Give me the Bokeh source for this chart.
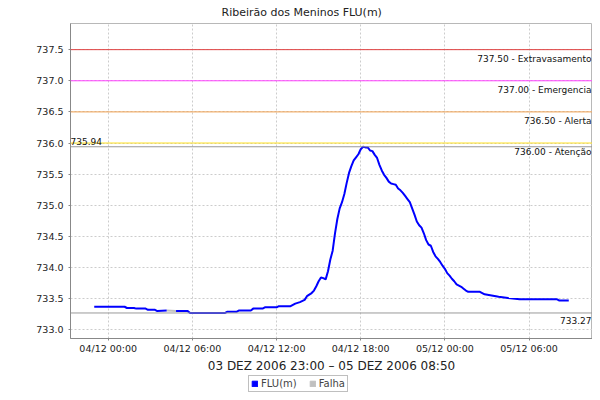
import numpy as np
import pandas as pd
from bokeh.plotting import figure
from bokeh.layouts import column
from bokeh.models import (Range1d, FixedTicker, DatetimeTickFormatter, PrintfTickFormatter,
                          Span, Label, Legend, LegendItem)
from bokeh.embed import file_html
from bokeh.resources import INLINE

title_text = "Ribeirão dos Meninos FLU(m)"
x_label = "03 DEZ 2006 23:00 \u2013 05 DEZ 2006 08:50"

flu_times = [
    "2006-12-03 23:00", "2006-12-04 01:10", "2006-12-04 01:20", "2006-12-04 01:50",
    "2006-12-04 02:00", "2006-12-04 02:40", "2006-12-04 02:50", "2006-12-04 03:20",
    "2006-12-04 03:30", "2006-12-04 04:10", "2006-12-04 04:30", "2006-12-04 04:50",
    "2006-12-04 05:40", "2006-12-04 05:50", "2006-12-04 08:20", "2006-12-04 08:30",
    "2006-12-04 09:10", "2006-12-04 09:20", "2006-12-04 10:10", "2006-12-04 10:20",
    "2006-12-04 11:00", "2006-12-04 11:10", "2006-12-04 12:00", "2006-12-04 12:10",
    "2006-12-04 13:00", "2006-12-04 13:20", "2006-12-04 13:40", "2006-12-04 14:00",
    "2006-12-04 14:10", "2006-12-04 14:30", "2006-12-04 14:40", "2006-12-04 14:50",
    "2006-12-04 15:00", "2006-12-04 15:10", "2006-12-04 15:20", "2006-12-04 15:30",
    "2006-12-04 15:40", "2006-12-04 15:50", "2006-12-04 16:00", "2006-12-04 16:10",
    "2006-12-04 16:20", "2006-12-04 16:30", "2006-12-04 16:40", "2006-12-04 16:50",
    "2006-12-04 17:00", "2006-12-04 17:10", "2006-12-04 17:20", "2006-12-04 17:30",
    "2006-12-04 17:40", "2006-12-04 17:50", "2006-12-04 18:00", "2006-12-04 18:10",
    "2006-12-04 18:20", "2006-12-04 18:30", "2006-12-04 18:40", "2006-12-04 18:50",
    "2006-12-04 19:00", "2006-12-04 19:10", "2006-12-04 19:20", "2006-12-04 19:30",
    "2006-12-04 19:40", "2006-12-04 19:50", "2006-12-04 20:00", "2006-12-04 20:10",
    "2006-12-04 20:20", "2006-12-04 20:30", "2006-12-04 20:40", "2006-12-04 20:50",
    "2006-12-04 21:00", "2006-12-04 21:10", "2006-12-04 21:20", "2006-12-04 21:30",
    "2006-12-04 21:40", "2006-12-04 21:50", "2006-12-04 22:00", "2006-12-04 22:10",
    "2006-12-04 22:20", "2006-12-04 22:30", "2006-12-04 22:40", "2006-12-04 22:50",
    "2006-12-04 23:00", "2006-12-04 23:10", "2006-12-04 23:20", "2006-12-04 23:30",
    "2006-12-04 23:40", "2006-12-04 23:50", "2006-12-05 00:00", "2006-12-05 00:10",
    "2006-12-05 00:20", "2006-12-05 00:30", "2006-12-05 00:40", "2006-12-05 00:50",
    "2006-12-05 01:00", "2006-12-05 01:10", "2006-12-05 01:20", "2006-12-05 01:30",
    "2006-12-05 01:40", "2006-12-05 02:30", "2006-12-05 02:40", "2006-12-05 02:50",
    "2006-12-05 03:20", "2006-12-05 03:50", "2006-12-05 04:30", "2006-12-05 05:20",
    "2006-12-05 08:00", "2006-12-05 08:10", "2006-12-05 08:50",
]
flu_values = [
    733.37, 733.37, 733.35, 733.35,
    733.34, 733.34, 733.32, 733.32,
    733.30, 733.31, None, 733.30,
    733.30, 733.27, 733.27, 733.29,
    733.29, 733.31, 733.31, 733.34,
    733.34, 733.36, 733.36, 733.38,
    733.38, 733.42, 733.445, 733.48,
    733.54, 733.59, 733.63, 733.70,
    733.78, 733.84, 733.83, 733.81,
    733.94, 734.13, 734.27, 734.55,
    734.78, 734.95, 735.05, 735.18,
    735.36, 735.52, 735.63, 735.72,
    735.77, 735.82, 735.90, 735.94,
    735.93, 735.93, 735.88, 735.87,
    735.81, 735.76, 735.65, 735.56,
    735.49, 735.44, 735.38, 735.35,
    735.34, 735.33, 735.27, 735.24,
    735.20, 735.15, 735.10, 735.05,
    734.95, 734.85, 734.74, 734.68,
    734.64, 734.55, 734.44, 734.37,
    734.35, 734.25, 734.18, 734.14,
    734.09, 734.03, 733.98, 733.91,
    733.87, 733.82, 733.78, 733.73,
    733.71, 733.69, 733.66, 733.63,
    733.61, 733.61, 733.59, 733.57,
    733.55, 733.53, 733.51, 733.49,
    733.49, 733.47, 733.47,
]
falha_times = ["2006-12-04 04:10", "2006-12-04 04:50"]
falha_values = [733.31, 733.30]

levels = [737.5, 737.0, 736.5, 736.0]
level_names = ["Extravasamento", "Emergencia", "Alerta", "Atenção"]
level_colors = ["#e04040", "#ff40ff", "#f0a050", "#ffe020"]

x_tick_times = ["2006-12-04 00:00", "2006-12-04 06:00", "2006-12-04 12:00",
                "2006-12-04 18:00", "2006-12-05 00:00", "2006-12-05 06:00"]
y_ticks = [733.0, 733.5, 734.0, 734.5, 735.0, 735.5, 736.0, 736.5, 737.0, 737.5]

legend_labels = ["FLU(m)", "Falha"]
legend_colors = ["#0000ff", "#c0c0c0"]

FONT = "DejaVu Sans"

t = pd.to_datetime(flu_times)
v = np.array(flu_values, dtype=float)
tf = pd.to_datetime(falha_times)

def to_ms(idx):
    return list(((idx - pd.Timestamp("1970-01-01")) // pd.Timedelta("1ms")).astype(float))

t_ms = to_ms(t)
span = t_ms[-1] - t_ms[0]
x0 = t_ms[0] - 0.05 * span
x1 = t_ms[-1] + 0.05 * span
y0, y1 = 732.86, 737.92

p = figure(width=592, height=375, x_axis_type="datetime", output_backend="svg",
           toolbar_location=None, x_range=Range1d(x0, x1), y_range=Range1d(y0, y1),
           min_border_left=70, min_border_right=0, min_border_top=0, min_border_bottom=35)

p.title.text = title_text
p.title.text_font = FONT
p.title.text_font_size = "11px"
p.title.text_font_style = "normal"
p.title.text_color = "#222222"
p.title.align = "left"
p.title.offset = 151
p.title.vertical_align = "middle"
p.title.standoff = 8

p.outline_line_color = "#b8b8b8"
p.background_fill_color = "white"
p.border_fill_color = "white"

for ax in (p.xaxis[0], p.yaxis[0]):
    ax.axis_line_color = "#888888"
    ax.major_tick_line_color = "#888888"
    ax.major_tick_out = 2
    ax.major_tick_in = 0
    ax.minor_tick_line_color = None
    ax.major_label_text_font = FONT
    ax.major_label_text_font_size = "9.5px"
    ax.major_label_text_color = "#222222"

p.yaxis.ticker = FixedTicker(ticks=y_ticks)
p.yaxis.formatter = PrintfTickFormatter(format="%.1f")
p.yaxis.major_label_standoff = 5

p.xaxis.ticker = FixedTicker(ticks=to_ms(pd.to_datetime(x_tick_times)))
fmt = "%d/%m %H:%M"
p.xaxis.formatter = DatetimeTickFormatter(minutes=fmt, hourmin=fmt, hours=fmt, days=fmt, months=fmt)
p.xaxis.major_label_standoff = 2
p.xaxis.axis_label = x_label
p.xaxis.axis_label_text_font = FONT
p.xaxis.axis_label_text_font_size = "12px"
p.xaxis.axis_label_text_font_style = "normal"
p.xaxis.axis_label_text_color = "#222222"
p.xaxis.axis_label_standoff = 2

for g in (p.xgrid[0], p.ygrid[0]):
    g.grid_line_color = "#cccccc"
    g.grid_line_dash = "2 2"
    g.grid_line_width = 1

# threshold lines
for lev, name, col in zip(levels, level_names, level_colors):
    p.add_layout(Span(location=lev, dimension="width", line_color=col, line_width=1))
    p.add_layout(Label(x=x1, y=lev, text=f"{lev:.2f} - {name}", text_align="right",
                       text_baseline="top", y_offset=-4, x_offset=-1,
                       text_font=FONT, text_font_size="9px", text_color="#111111"))

vmax = float(np.nanmax(v))
vmin = float(np.nanmin(v))
p.add_layout(Span(location=vmax, dimension="width", line_color="#999999", line_width=1))
p.add_layout(Span(location=vmin, dimension="width", line_color="#999999", line_width=1))
p.add_layout(Label(x=x0, y=vmax, text=f"{vmax:.2f}", text_align="left",
                   text_baseline="alphabetic", y_offset=5, x_offset=0,
                   text_font=FONT, text_font_size="9px", text_color="#111111"))
p.add_layout(Label(x=x1, y=vmin, text=f"{vmin:.2f}", text_align="right",
                   text_baseline="top", y_offset=-4, x_offset=-1,
                   text_font=FONT, text_font_size="9px", text_color="#111111"))

p.line(x=tf, y=falha_values, line_color=legend_colors[1], line_width=2)
p.line(x=t, y=v, line_color=legend_colors[0], line_width=2)

# legend strip below the chart
lg = figure(width=592, height=17, output_backend="svg", toolbar_location=None,
            x_axis_location=None, y_axis_location=None,
            x_range=Range1d(0, 1), y_range=Range1d(0, 1),
            min_border_left=0, min_border_right=0, min_border_top=0, min_border_bottom=0)
lg.outline_line_color = None
lg.grid.visible = False
lg.background_fill_color = "white"
lg.border_fill_color = "white"
items = []
for lab, col in zip(legend_labels, legend_colors):
    # a box placed outside the strip's visible range: only its legend icon shows
    r = lg.rect(x=[-5], y=[-5], width=1, height=1, fill_color=col, line_color=col)
    items.append(LegendItem(label=lab, renderers=[r]))
legend = Legend(items=items, orientation="horizontal", location=(178, 0),
                label_text_font=FONT, label_text_font_size="10px",
                glyph_width=7, glyph_height=7, label_standoff=3, spacing=12,
                padding=2, margin=0, label_height=10,
                border_line_color="#808080", border_line_width=1,
                background_fill_color="white", background_fill_alpha=1.0)
lg.add_layout(legend, "center")

layout = column(p, lg, spacing=0)
open("out.html", "w").write(file_html(layout, INLINE))
